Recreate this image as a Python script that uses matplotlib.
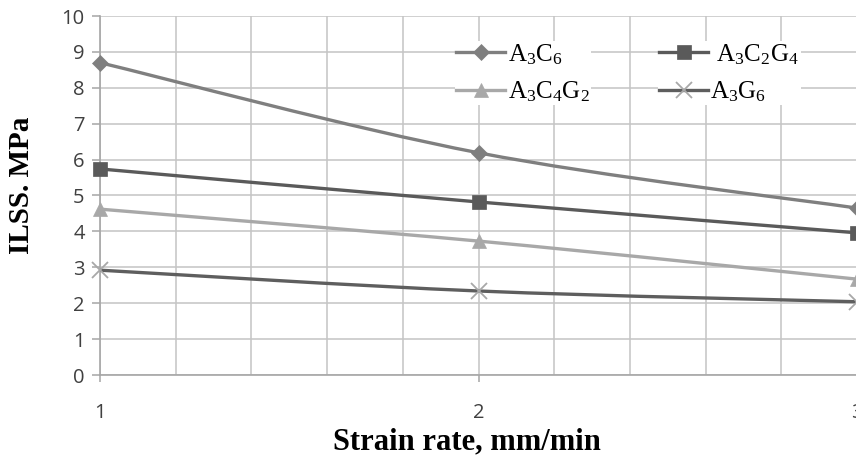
import matplotlib
matplotlib.use("Agg")
from matplotlib import pyplot as plt
from matplotlib.path import Path
from matplotlib.patches import PathPatch
from matplotlib.lines import Line2D
import numpy as np

plt.rcParams['mathtext.fontset'] = 'custom'
plt.rcParams['mathtext.rm'] = 'Liberation Serif'
plt.rcParams['mathtext.it'] = 'Liberation Serif:italic'

strain_rate = [1, 2, 3]
a3c6 = [8.70, 6.19, 4.65]
a3c2g4 = [5.74, 4.82, 3.96]
a3c4g2 = [4.62, 3.73, 2.67]
a3g6 = [2.92, 2.34, 2.04]

labels = ["A$_3$C$_6$", " A$_3$C$_2$G$_4$", "A$_3$C$_4$G$_2$", "A$_3$G$_6$"]
series = [a3c6, a3c2g4, a3c4g2, a3g6]
line_colors = ["#7f7f7f", "#5a5a5a", "#a8a8a8", "#5e5e5e"]
marker_colors = ["#7f7f7f", "#5a5a5a", "#a8a8a8", "#a8a8a8"]
markers = ["D", "s", "^", "x"]
marker_sizes = [8, 10, 10, 11]


def smooth_path(xs, ys):
    # excel-style smoothed line: bezier segments through the points
    pts = np.column_stack([xs, ys]).astype(float)
    n = len(pts)
    verts = [pts[0]]
    codes = [Path.MOVETO]
    for i in range(n - 1):
        p_prev = pts[i - 1] if i > 0 else pts[i]
        p_next2 = pts[i + 2] if i + 2 < n else pts[i + 1]
        c1 = pts[i] + (pts[i + 1] - p_prev) / 6
        c2 = pts[i + 1] - (p_next2 - pts[i]) / 6
        verts += [c1, c2, pts[i + 1]]
        codes += [Path.CURVE4] * 3
    return Path(verts, codes)


fig = plt.figure(figsize=(8.56, 4.61), dpi=100)
ax = fig.add_axes([100 / 856, 86 / 461, 757 / 856, 359 / 461])
ax.set_xlim(1, 3)
ax.set_ylim(0, 10)

ax.set_xticks([1, 2, 3])
ax.set_xticks(np.arange(1, 3.01, 0.2), minor=True)
ax.set_yticks(range(0, 11))
ax.grid(True, which='both', axis='x', color='#c4c4c4', lw=1.1)
ax.grid(True, which='major', axis='y', color='#c4c4c4', lw=1.1)
ax.tick_params(axis='x', which='minor', length=0)
ax.set_axisbelow(True)

for sp in ['top', 'right']:
    ax.spines[sp].set_visible(False)
for sp in ['left', 'bottom']:
    ax.spines[sp].set_color('#a6a6a6')
    ax.spines[sp].set_linewidth(1.2)

ax.tick_params(axis='y', length=6, width=1.1, color='#a6a6a6', pad=5,
               labelsize=14.5, labelcolor='#404040')
ax.tick_params(axis='x', which='major', length=5, width=1.1, color='#a6a6a6', pad=15,
               labelsize=14.5, labelcolor='#404040')
for lab in ax.get_xticklabels() + ax.get_yticklabels():
    lab.set_fontfamily('Open Sans')

handles = []
for ys, lab, lc, mc, mk, ms in zip(series, labels, line_colors, marker_colors, markers, marker_sizes):
    ax.add_patch(PathPatch(smooth_path(strain_rate, ys), fill=False, edgecolor=lc,
                           lw=2.4, zorder=3, clip_on=False))
    ax.plot(strain_rate, ys, linestyle='none', marker=mk, markersize=ms, color=mc,
            markeredgewidth=1.3 if mk == 'x' else 0.5, zorder=4, clip_on=False)
    handles.append(Line2D([], [], color=lc, lw=2.4, marker=mk, markersize=ms,
                          markerfacecolor=mc, markeredgecolor=mc,
                          markeredgewidth=1.3 if mk == 'x' else 0.5))

legend_font = {'family': 'Liberation Serif', 'size': 18}
leg_kw = dict(loc='upper left', frameon=True, framealpha=1, edgecolor='none',
              prop=legend_font, handlelength=1.95, handletextpad=0.1,
              labelspacing=0.5, borderpad=0.05, borderaxespad=0)
leg1 = ax.legend([handles[0], handles[2]], [labels[0], labels[2]],
                 bbox_to_anchor=(355 / 757, 1 - 25 / 359), **leg_kw)
ax.add_artist(leg1)
ax.legend([handles[1], handles[3]], [labels[1], labels[3]],
          bbox_to_anchor=(558 / 757, 1 - 25 / 359), **leg_kw)

fig.text(22 / 856, 1 - 185 / 461, "ILSS. MPa", rotation=90, ha='center', va='center',
         fontsize=21, fontweight='bold', family='Liberation Serif')
fig.text(467 / 856, 1 - 442 / 461, "Strain rate, mm/min", ha='center', va='center',
         fontsize=22, fontweight='bold', family='Liberation Serif')

fig.savefig("out.png", dpi=100)
